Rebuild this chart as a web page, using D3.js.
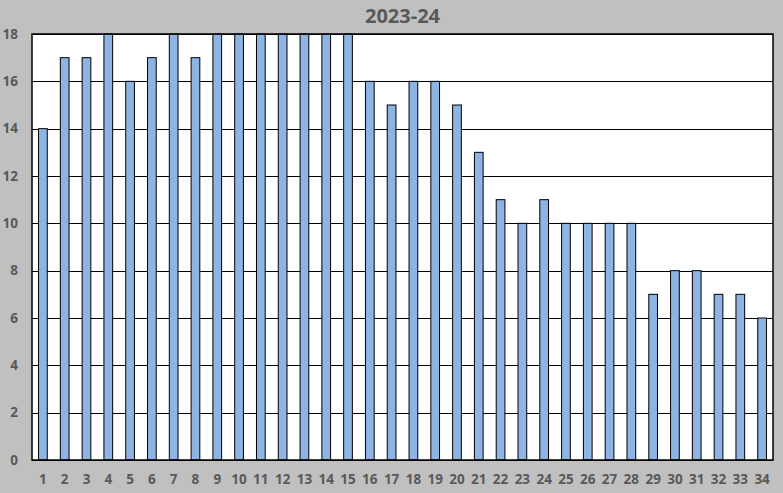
<!DOCTYPE html>
<html>
<head>
<meta charset="utf-8">
<script src="https://cdn.jsdelivr.net/npm/d3@7"></script>
<style>
  body { margin: 0; background: #c0c0c0; }
  svg { display: block; font-family: "Open Sans", "DejaVu Sans", sans-serif; }
</style>
</head>
<body>
<svg id="chart"></svg>
<script>
// chart data
const categories = d3.range(1, 35).map(String);
const values = [14, 17, 17, 18, 16, 17, 18, 17, 18, 18, 18, 18, 18, 18, 18, 16, 15, 16, 16, 15,
                13, 11, 10, 11, 10, 10, 10, 10, 7, 8, 8, 7, 7, 6];
const yTicks = [0, 2, 4, 6, 8, 10, 12, 14, 16, 18];
const title = "2023-24";

const width = 783, height = 493;
const margin = { top: 34, right: 10, bottom: 33, left: 32 };

const svg = d3.select("#chart")
    .attr("width", width)
    .attr("height", height);

svg.append("rect")
    .attr("width", width)
    .attr("height", height)
    .attr("fill", "#c0c0c0");

const x = d3.scaleBand()
    .domain(categories)
    .range([margin.left, width - margin.right])
    .paddingInner(0.6)
    .paddingOuter(0.3);

const y = d3.scaleLinear()
    .domain([0, 18])
    .range([height - margin.bottom, margin.top]);

// plot background
svg.append("rect")
    .attr("x", margin.left)
    .attr("y", margin.top)
    .attr("width", width - margin.left - margin.right)
    .attr("height", height - margin.top - margin.bottom)
    .attr("fill", "#ffffff");

// gridlines
svg.append("g")
    .selectAll("line")
    .data(yTicks)
    .join("line")
    .attr("x1", margin.left)
    .attr("x2", width - margin.right)
    .attr("y1", d => Math.round(y(d)) + 0.5)
    .attr("y2", d => Math.round(y(d)) + 0.5)
    .attr("stroke", "#000")
    .attr("stroke-width", 1);

// bars
svg.append("g")
    .selectAll("rect")
    .data(values)
    .join("rect")
    .attr("x", (d, i) => x(categories[i]))
    .attr("y", d => y(d))
    .attr("width", x.bandwidth())
    .attr("height", d => y(0) - y(d))
    .attr("fill", "#8db4e2")
    .attr("stroke", "#000")
    .attr("stroke-width", 1);

// plot border
svg.append("rect")
    .attr("x", margin.left)
    .attr("y", margin.top)
    .attr("width", width - margin.left - margin.right)
    .attr("height", height - margin.top - margin.bottom)
    .attr("fill", "none")
    .attr("stroke", "#000")
    .attr("stroke-width", 1.5);

// y axis labels
const yAxis = svg.append("g")
    .attr("transform", `translate(${margin.left - 14},0)`)
    .call(d3.axisLeft(y).tickValues(yTicks).tickSize(0).tickPadding(0));
yAxis.select(".domain").remove();
yAxis.selectAll("text")
    .attr("fill", "#595959")
    .attr("font-size", 13.5)
    .attr("font-weight", "bold")
    .attr("font-family", "'Open Sans', sans-serif");

// x axis labels
const xAxis = svg.append("g")
    .attr("transform", `translate(0,${height - margin.bottom + 14})`)
    .call(d3.axisBottom(x).tickSize(0).tickPadding(0));
xAxis.select(".domain").remove();
xAxis.selectAll("text")
    .attr("fill", "#595959")
    .attr("font-size", 13.5)
    .attr("font-weight", "bold")
    .attr("font-family", "'Open Sans', sans-serif");

// title
svg.append("text")
    .attr("x", (margin.left + width - margin.right) / 2)
    .attr("y", 23)
    .attr("text-anchor", "middle")
    .attr("fill", "#595959")
    .attr("font-size", 20)
    .attr("font-weight", "bold")
    .text(title);
</script>
</body>
</html>
